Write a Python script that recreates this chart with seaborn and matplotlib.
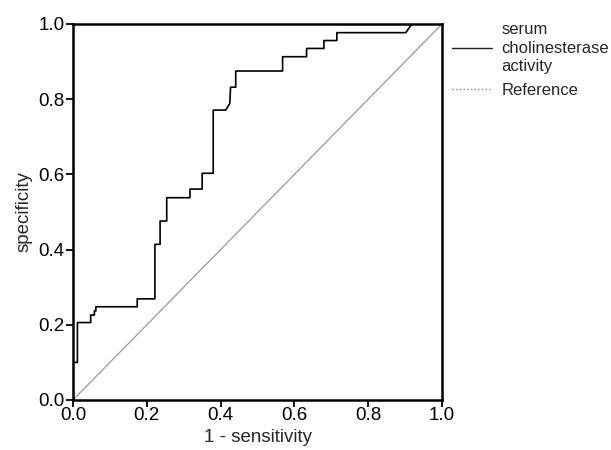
import pandas as pd
import matplotlib.pyplot as plt
from matplotlib.lines import Line2D
import seaborn as sns

# ROC curve vertices
fpr = [0.0, 0.0, 0.012, 0.012, 0.048, 0.048, 0.058, 0.058, 0.062, 0.062,
       0.174, 0.174, 0.222, 0.222, 0.236, 0.236, 0.254, 0.254, 0.317, 0.317,
       0.350, 0.350, 0.380, 0.380, 0.414, 0.425, 0.427, 0.441, 0.441, 0.568,
       0.568, 0.633, 0.633, 0.680, 0.680, 0.715, 0.715, 0.902, 0.918, 1.0]
tpr = [0.0, 0.100, 0.100, 0.206, 0.206, 0.226, 0.226, 0.237, 0.237, 0.248,
       0.248, 0.269, 0.269, 0.414, 0.414, 0.476, 0.476, 0.538, 0.538, 0.561,
       0.561, 0.603, 0.603, 0.771, 0.771, 0.789, 0.832, 0.832, 0.875, 0.875,
       0.913, 0.913, 0.935, 0.935, 0.956, 0.956, 0.977, 0.977, 1.0, 1.0]
ref = [0.0, 1.0]
ticks = [0.0, 0.2, 0.4, 0.6, 0.8, 1.0]
tick_labels = ['0.0', '0.2', '0.4', '0.6', '0.8', '1.0']
series = ['serum\ncholinesterase\nactivity', 'Reference']

sns.set_style('ticks')
plt.rcParams['font.family'] = ['Liberation Sans', 'DejaVu Sans']

roc = pd.DataFrame({'x': fpr, 'y': tpr})
diag = pd.DataFrame({'x': ref, 'y': ref})

fig = plt.figure(figsize=(6.11, 4.5), dpi=100)
ax = fig.add_axes([73 / 611, 50 / 450, 369 / 611, 376 / 450])

sns.lineplot(data=diag, x='x', y='y', ax=ax, color='#999999', lw=0.9,
             sort=False, estimator=None, legend=False, zorder=2)
sns.lineplot(data=roc, x='x', y='y', ax=ax, color='black', lw=1.2,
             sort=False, estimator=None, legend=False, zorder=3)

ax.set_xlim(0, 1)
ax.set_ylim(0, 1)
ax.set_xticks(ticks)
ax.set_xticklabels(tick_labels)
ax.set_yticks(ticks)
ax.set_yticklabels(tick_labels)
ax.tick_params(direction='out', length=5, width=1.3, labelsize=13.5,
               colors='black', pad=1)
ax.tick_params(axis='x', pad=0)
for s in ax.spines.values():
    s.set_visible(True)
    s.set_linewidth(1.8)
    s.set_color('black')
ax.set_xlabel('1 - sensitivity', fontsize=13.5, labelpad=4)
ax.set_ylabel('specificity', fontsize=13.5, labelpad=4)

# legend outside on the right
handles = [Line2D([], [], color='#222222', lw=1.0),
           Line2D([], [], color='#8a8a8a', lw=1.0, ls=':')]
leg = ax.legend(handles, series, loc='upper left',
                bbox_to_anchor=(0.99, 1.04), frameon=False,
                handlelength=2.4, handletextpad=0.6, labelspacing=0.55,
                borderaxespad=0.4, prop={'size': 12})
for t in leg.get_texts():
    t.set_linespacing(1.28)

fig.savefig('out.png', dpi=100)
